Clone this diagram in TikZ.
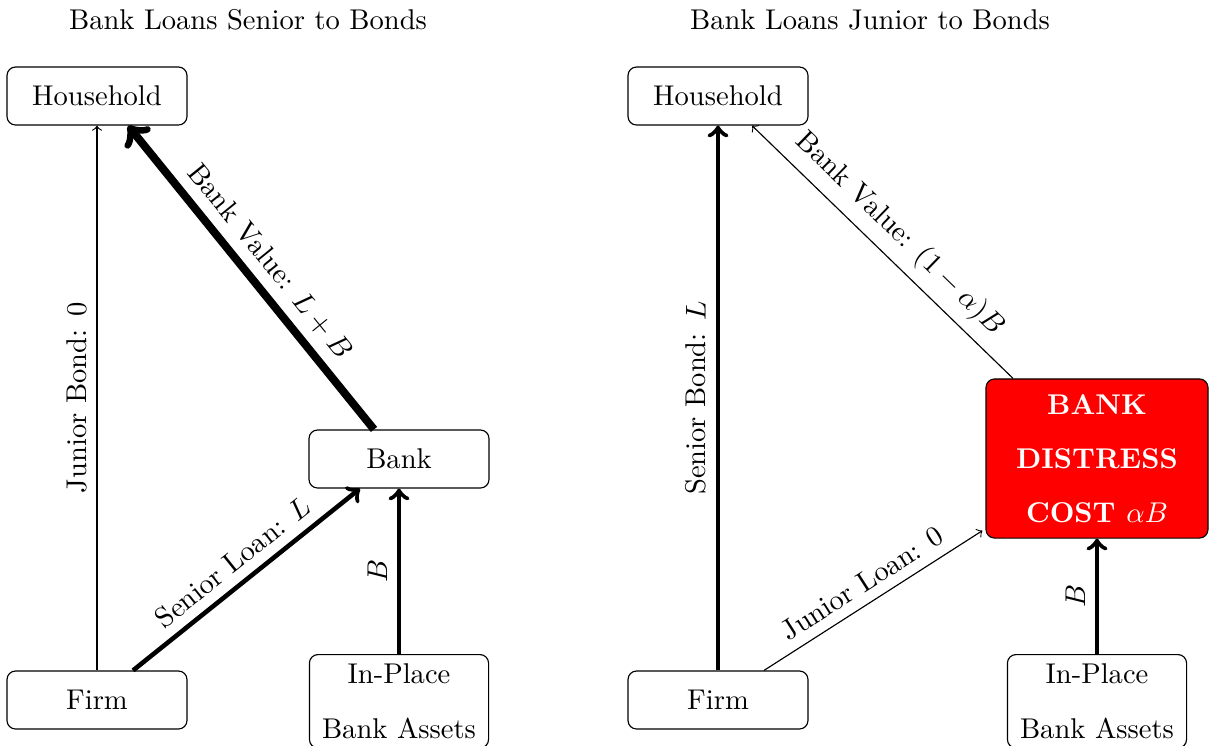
\documentclass[tikz,border=0pt]{standalone}
\usetikzlibrary{calc}
\begin{document}
\begin{tikzpicture}[x=0.35pt,y=-0.35pt,
  box/.style={draw, rounded corners=3pt, minimum width=63pt, minimum height=20.3pt, inner sep=3.33pt, align=center},
  thinarr/.style={->, line width=0.4pt},
  thickarr/.style={->, line width=1.6pt},
  heavyarr/.style={->, line width=2.8pt},
  lbl/.style={midway, above, sloped}]
\useasboundingbox (0,0) rectangle (1209,746);
% titles
\node (t1) at (248,20) {Bank Loans Senior to Bonds};
\node (t2) at (870,20) {Bank Loans Junior to Bonds};
% left panel
\node[box] (hh) at (97,96) {Household};
\node[box] (bank) at (399,459) {Bank};
\node[box] (firm) at (97,700) {Firm};
\node[box, anchor=north, minimum width=62.7pt] (ipa) at (399,654) {In-Place\\[7pt]Bank Assets};
\draw[thinarr] (firm) -- node[lbl] {Junior Bond: 0} (hh);
\draw[heavyarr] ($(bank.north)+(-25,0)$) -- node[lbl] {Bank Value: $L+B$} ($(hh.south)+(31,0)$);
\draw[thickarr] ($(firm.north)+(36,0)$) -- node[lbl] {Senior Loan: $L$} ($(bank.south)+(-39,0)$);
\draw[thickarr] (ipa) -- node[lbl] {$B$} (bank);
% right panel
\node[box] (hh2) at (718,96) {Household};
\node[box, fill=red, text=white, font=\bfseries, minimum width=77.7pt, minimum height=55.7pt] (red) at (1097,458.5) {BANK\\[7pt]DISTRESS\\[7pt]COST $\alpha B$};
\node[box] (firm2) at (718,700) {Firm};
\node[box, anchor=north, minimum width=62.7pt] (ipa2) at (1097,654) {In-Place\\[7pt]Bank Assets};
\draw[thickarr] (firm2) -- node[lbl] {Senior Bond: $L$} (hh2);
\draw[thinarr] ($(red.north)+(-84,0)$) -- node[lbl] {Bank Value: $(1-\alpha)B$} ($(hh2.south)+(34,0)$);
\draw[thinarr] ($(firm2.north)+(46,0)$) -- node[lbl] {Junior Loan: 0} ($(red.south west)+(-3,-8)$);
\draw[thickarr] (ipa2) -- node[lbl] {$B$} (red);
\end{tikzpicture}
\end{document}
